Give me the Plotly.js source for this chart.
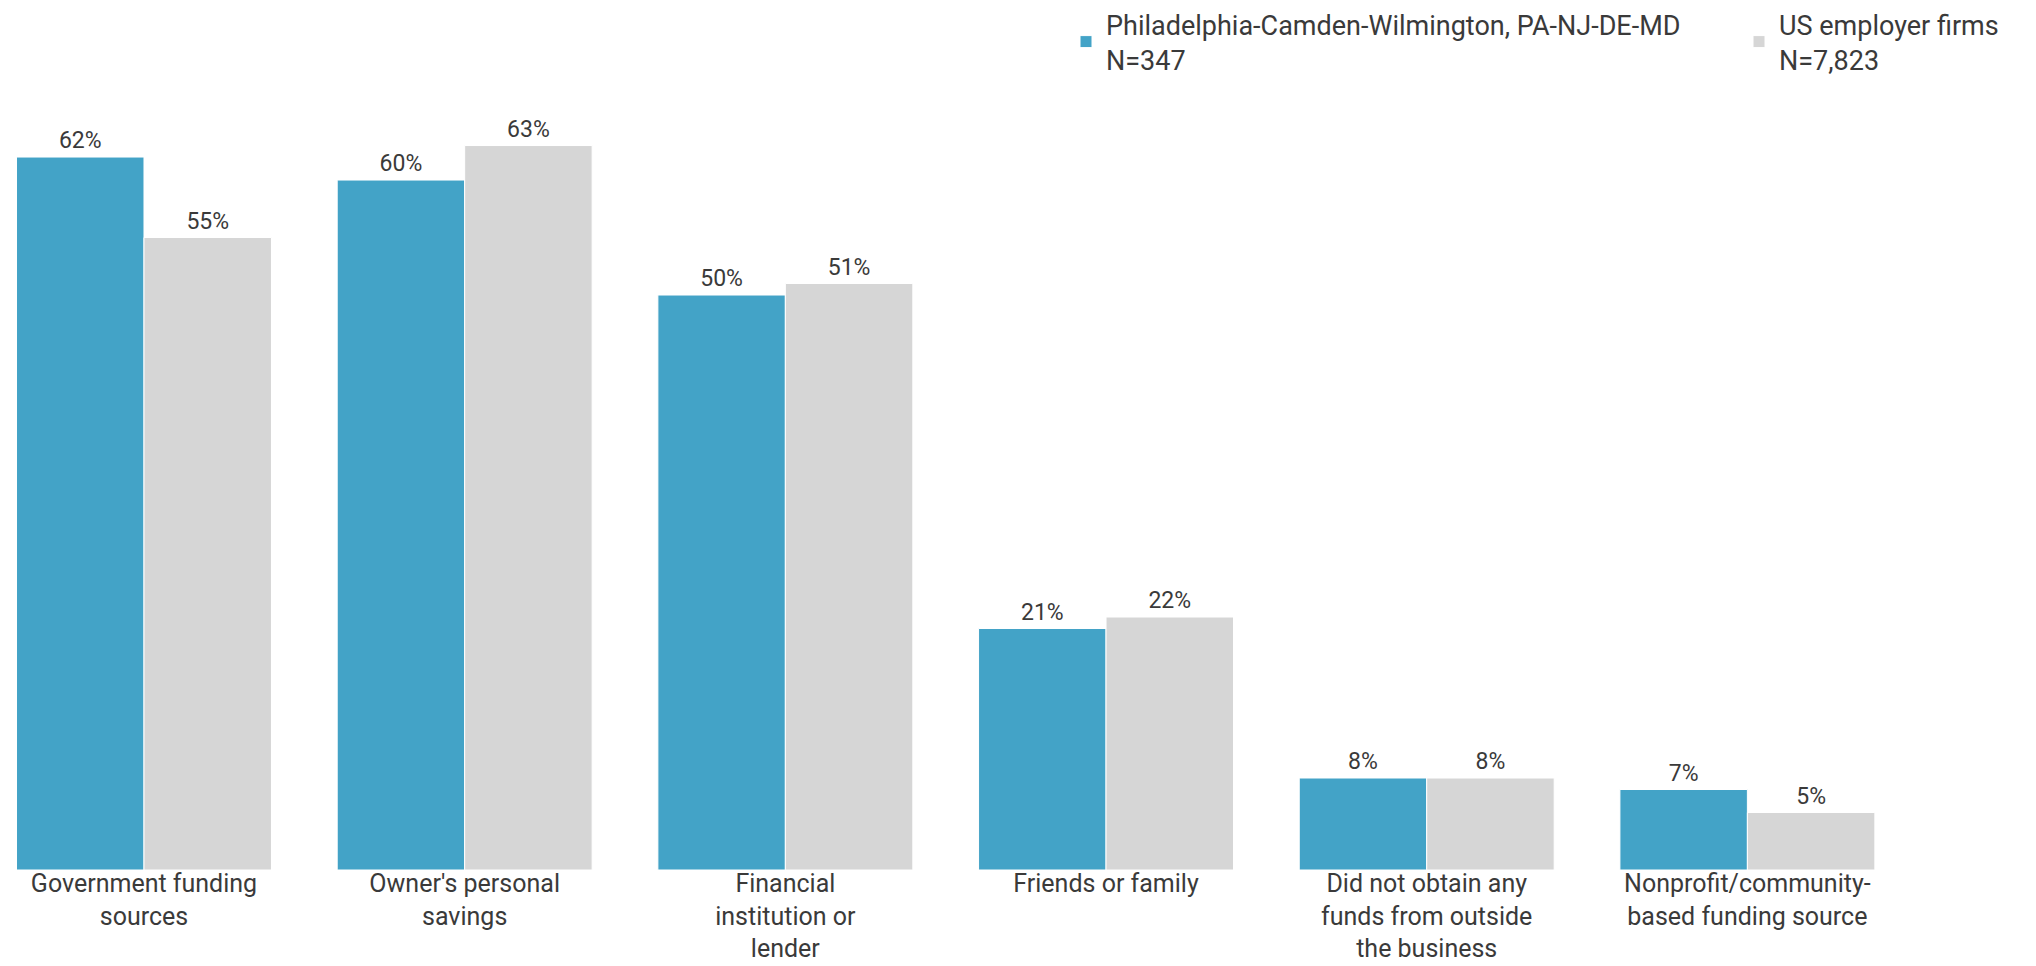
<!DOCTYPE html>
<html>
<head>
<meta charset="utf-8">
<script src="https://cdn.plot.ly/plotly-3.0.1.min.js"></script>
<style>html,body{margin:0;padding:0;background:#fff;}#chart{width:2036px;height:966px;}</style>
</head>
<body>
<div id="chart"></div>
<script>
const categories = [
  "Government funding<br>sources",
  "Owner's personal<br>savings",
  "Financial<br>institution or<br>lender",
  "Friends or family",
  "Did not obtain any<br>funds from outside<br>the business",
  "Nonprofit/community-<br>based funding source"
];
const seriesNames = [
  "Philadelphia-Camden-Wilmington, PA-NJ-DE-MD<br>N=347",
  "US employer firms<br>N=7,823"
];
const philadelphia = [62, 60, 50, 21, 8, 7];
const usFirms = [55, 63, 51, 22, 8, 5];

const fontFamily = "Roboto, 'Open Sans', sans-serif";
const textColor = "#3a3a3a";

function barTrace(name, values, color, legendId) {
  return {
    type: "bar",
    name: name,
    legend: legendId,
    x: categories,
    y: values,
    text: values.map(v => v + "%"),
    textposition: "outside",
    cliponaxis: false,
    textfont: {family: fontFamily, size: 23, color: textColor},
    marker: {color: color, line: {color: "#ffffff", width: 1}},
    hoverinfo: "skip"
  };
}

const data = [
  barTrace(seriesNames[0], philadelphia, "#43A3C7", "legend"),
  barTrace(seriesNames[1], usFirms, "#D6D6D6", "legend2")
];

function legendAt(px) {
  return {
    orientation: "v",
    xref: "container",
    yref: "container",
    x: px / 2036,
    y: 1.0107,
    xanchor: "left",
    yanchor: "top",
    font: {family: fontFamily, size: 27, color: textColor},
    bgcolor: "rgba(0,0,0,0)",
    borderwidth: 0
  };
}

const layout = {
  width: 2036,
  height: 966,
  margin: {l: 0, r: 0, t: 100, b: 96, autoexpand: false},
  paper_bgcolor: "#ffffff",
  plot_bgcolor: "#ffffff",
  barmode: "group",
  bargap: 0.205,
  bargroupgap: 0,
  font: {family: fontFamily, color: textColor},
  showlegend: true,
  legend: legendAt(1066),
  legend2: legendAt(1739),
  xaxis: {
    type: "category",
    range: [-0.449, 5.900],
    showgrid: false,
    zeroline: false,
    showline: false,
    ticks: "",
    tickangle: 0,
    ticklabelstandoff: -4,
    automargin: false,
    tickfont: {family: fontFamily, size: 25, color: textColor},
    fixedrange: true
  },
  yaxis: {
    range: [0, 66.96],
    showgrid: false,
    zeroline: false,
    showline: false,
    showticklabels: false,
    ticks: "",
    automargin: false,
    fixedrange: true
  }
};

Plotly.newPlot("chart", data, layout, {displayModeBar: false, staticPlot: true});
</script>
</body>
</html>
